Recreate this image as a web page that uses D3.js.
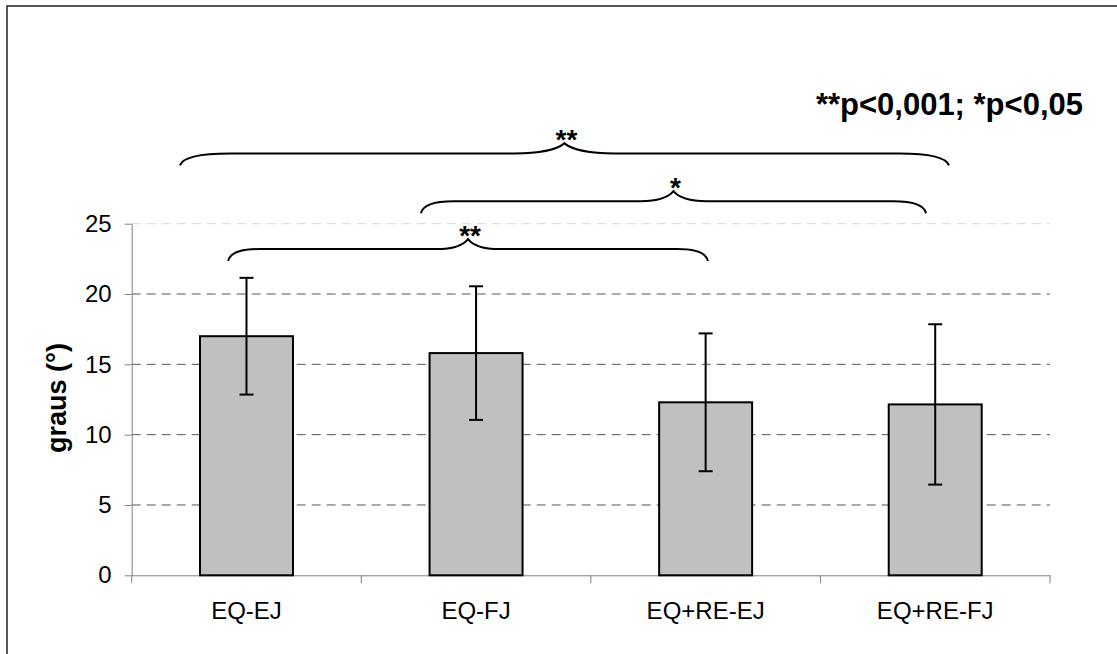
<!DOCTYPE html>
<html>
<head>
<meta charset="utf-8">
<script src="https://cdn.jsdelivr.net/npm/d3@7"></script>
<style>
  html, body { margin: 0; padding: 0; background: #fff; }
  svg { display: block; }
  text { font-family: "Liberation Sans", Arial, Helvetica, sans-serif; }
</style>
</head>
<body>
<svg id="chart" width="1117" height="654"></svg>
<script>
// Group means and standard deviations (degrees)
const categories = ["EQ-EJ", "EQ-FJ", "EQ+RE-EJ", "EQ+RE-FJ"];
const means = [17.0, 15.8, 12.3, 12.15];
const sds = [4.15, 4.75, 4.9, 5.7];
const yTicks = [0, 5, 10, 15, 20, 25];

// Significance braces: span in category-index units, level in axis units
const braceFrom = [-0.29, 0.76, -0.08];
const braceTo = [3.06, 2.96, 2.01];
const braceLevel = [30.0, 26.6, 23.2];
const braceLabels = ["**", "*", "**"];

const note = "**p<0,001; *p<0,05";
const yTitle = "graus (°)";

const svg = d3.select("#chart");
const FONT = "Liberation Sans, Arial, Helvetica, sans-serif";

// Outer frame
svg.append("rect")
  .attr("x", 7).attr("y", 6)
  .attr("width", 1200).attr("height", 700)
  .attr("fill", "none").attr("stroke", "#222").attr("stroke-width", 1.5);

const plot = { left: 131.7, right: 1050, top: 223.7, bottom: 575.3 };

const y = d3.scaleLinear().domain([0, 25]).range([plot.bottom, plot.top]);
const x = d3.scaleBand().domain(categories)
  .range([plot.left, plot.right])
  .paddingInner(0.595).paddingOuter(0.2975);
const center = c => x(c) + x.bandwidth() / 2;
const idx = d3.scaleLinear()
  .domain([0, categories.length - 1])
  .range([center(categories[0]), center(categories[categories.length - 1])]);

// Dashed gridlines
svg.append("g").selectAll("line")
  .data(yTicks.filter(v => v > 0))
  .join("line")
  .attr("x1", plot.left).attr("x2", plot.right)
  .attr("y1", d => y(d)).attr("y2", d => y(d))
  .attr("stroke", d => d === 25 ? "#d8d8d8" : "#555")
  .attr("stroke-width", 1)
  .attr("stroke-dasharray", "9,6");

// Y axis
const yAxis = svg.append("g")
  .attr("transform", `translate(${plot.left},0)`)
  .call(d3.axisLeft(y).tickValues(yTicks).tickSize(7).tickSizeOuter(0).tickPadding(13));
yAxis.attr("font-family", FONT).attr("font-size", 24);
yAxis.select(".domain").attr("stroke", "#808080");
yAxis.selectAll(".tick line").attr("stroke", "#808080");
yAxis.selectAll(".tick text").attr("fill", "#000");

// X axis
const xAxis = svg.append("g")
  .attr("transform", `translate(0,${plot.bottom})`)
  .call(d3.axisBottom(x).tickSize(0).tickSizeOuter(0).tickPadding(27));
xAxis.attr("font-family", FONT).attr("font-size", 24);
xAxis.select(".domain").attr("stroke", "#808080");
xAxis.selectAll(".tick text").attr("fill", "#000");

// Category boundary ticks
const bounds = categories.map(c => x(c) - x.step() * x.paddingInner() / 2)
  .concat([x(categories[categories.length - 1]) - x.step() * x.paddingInner() / 2 + x.step()]);
svg.append("g").selectAll("line")
  .data(bounds).join("line")
  .attr("x1", d => d).attr("x2", d => d)
  .attr("y1", plot.bottom).attr("y2", plot.bottom + 8)
  .attr("stroke", "#808080");

// Bars
svg.append("g").selectAll("rect")
  .data(categories).join("rect")
  .attr("x", c => x(c))
  .attr("y", (c, i) => y(means[i]))
  .attr("width", x.bandwidth())
  .attr("height", (c, i) => y(0) - y(means[i]))
  .attr("fill", "#c0c0c0")
  .attr("stroke", "#000")
  .attr("stroke-width", 2);

// Error bars (mean ± SD)
const err = svg.append("g").attr("stroke", "#000").attr("stroke-width", 2);
categories.forEach((c, i) => {
  const cx = center(c), hi = y(means[i] + sds[i]), lo = y(means[i] - sds[i]);
  err.append("line").attr("x1", cx).attr("x2", cx).attr("y1", hi).attr("y2", lo);
  err.append("line").attr("x1", cx - 7).attr("x2", cx + 7).attr("y1", hi).attr("y2", hi);
  err.append("line").attr("x1", cx - 7).attr("x2", cx + 7).attr("y1", lo).attr("y2", lo);
});

// Curly braces with significance markers
function bracePath(x0, x1, yl) {
  const q = Math.min(50, (x1 - x0) * 0.065);
  const drop = 12, rise = 10;
  const xm = (x0 + x1) / 2, ye = yl + drop, yp = yl - rise;
  return `M${x0},${ye}` +
    `C${x0 + q * 0.05},${yl + drop * 0.35} ${x0 + q * 0.35},${yl} ${x0 + q},${yl}` +
    `L${xm - q},${yl}` +
    `C${xm - q * 0.5},${yl} ${xm - q * 0.15},${yl - rise * 0.4} ${xm},${yp}` +
    `C${xm + q * 0.15},${yl - rise * 0.4} ${xm + q * 0.5},${yl} ${xm + q},${yl}` +
    `L${x1 - q},${yl}` +
    `C${x1 - q * 0.35},${yl} ${x1 - q * 0.05},${yl + drop * 0.35} ${x1},${ye}`;
}
const braces = svg.append("g");
braceLabels.forEach((lab, i) => {
  const x0 = idx(braceFrom[i]), x1 = idx(braceTo[i]), yl = y(braceLevel[i]);
  braces.append("path")
    .attr("d", bracePath(x0, x1, yl))
    .attr("fill", "none").attr("stroke", "#000").attr("stroke-width", 2);
  braces.append("text")
    .attr("x", (x0 + x1) / 2 + 2).attr("y", yl - 10 + 6)
    .attr("text-anchor", "middle")
    .attr("font-size", 28).attr("font-weight", "bold")
    .text(lab);
});

// Y axis title
svg.append("text")
  .attr("transform", "translate(66,398) rotate(-90)")
  .attr("text-anchor", "middle")
  .attr("font-size", 27).attr("font-weight", "bold")
  .text(yTitle);

// Significance note
svg.append("text")
  .attr("x", 1083).attr("y", 115)
  .attr("text-anchor", "end")
  .attr("font-size", 31).attr("font-weight", "bold")
  .text(note);
</script>
</body>
</html>
